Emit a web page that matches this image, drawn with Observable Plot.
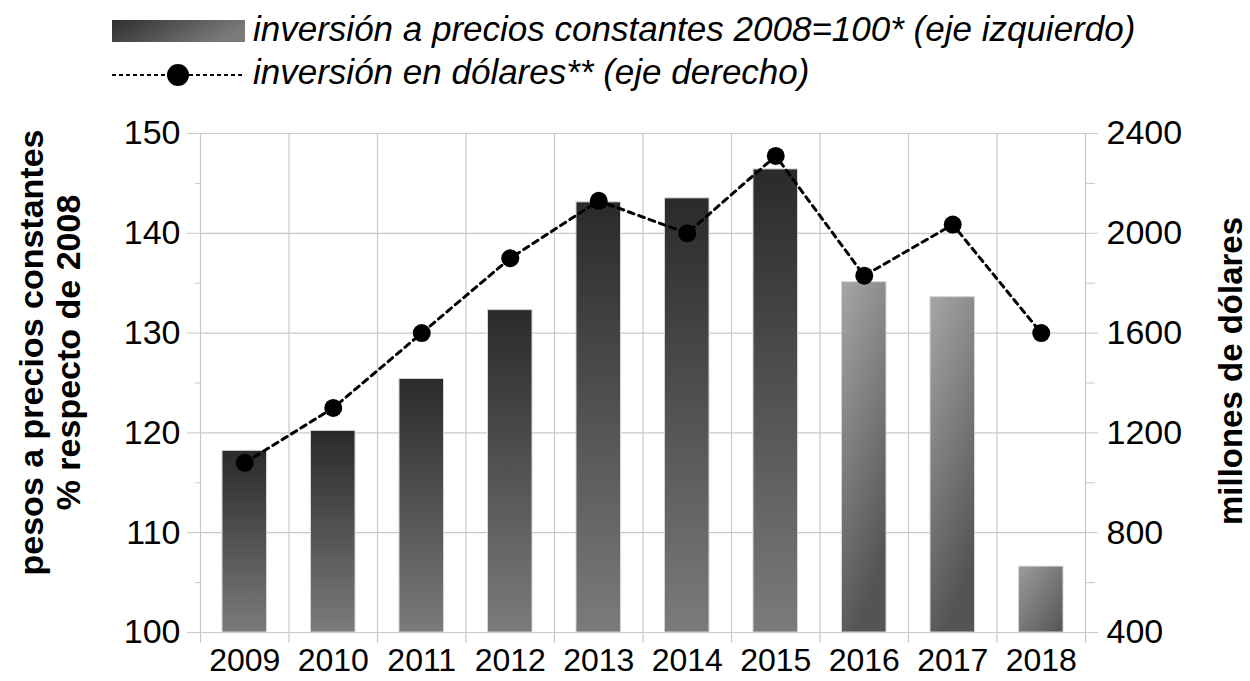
<!DOCTYPE html>
<html>
<head>
<meta charset="utf-8">
<script src="https://cdn.jsdelivr.net/npm/d3@7"></script>
<script src="https://cdn.jsdelivr.net/npm/@observablehq/plot@0.6"></script>
<style>
  html, body { margin: 0; padding: 0; background: #fff; }
  body { width: 1250px; height: 681px; overflow: hidden; font-family: "Liberation Sans", Arial, sans-serif; }
  #legend { position: relative; width: 1250px; height: 100px; }
  .lg-text { position: absolute; left: 253px; font-style: italic; font-size: 35px; color: #000; white-space: nowrap; line-height: 1; }
  #chart svg { display: block; }
</style>
</head>
<body>
<div id="legend">
  <svg width="250" height="100" style="position:absolute;left:0;top:0">
    <defs>
      <linearGradient id="lgGrad" x1="0" y1="0" x2="1" y2="0.3">
        <stop offset="0" stop-color="#2e2e2e"/>
        <stop offset="1" stop-color="#7a7a7a"/>
      </linearGradient>
    </defs>
    <rect x="112" y="20" width="133" height="22" fill="url(#lgGrad)"/>
    <line x1="112" x2="245" y1="75" y2="75" stroke="#000" stroke-width="2.2" stroke-dasharray="4,3"/>
    <circle cx="178" cy="75" r="11" fill="#000"/>
  </svg>
  <div class="lg-text" style="top:11px">inversión a precios constantes 2008=100* (eje izquierdo)</div>
  <div class="lg-text" style="top:54px">inversión en dólares** (eje derecho)</div>
</div>
<div id="chart"></div>
<script>
// ---- data ----
const years = [2009, 2010, 2011, 2012, 2013, 2014, 2015, 2016, 2017, 2018];
const inversionConstante = [118.2, 120.2, 125.4, 132.3, 143.1, 143.5, 146.4, 135.1, 133.6, 106.6];
const inversionDolares = [1080, 1300, 1600, 1900, 2130, 2000, 2310, 1830, 2035, 1600];
const leftTicks = [100, 110, 120, 130, 140, 150];
const rightTicks = [400, 800, 1200, 1600, 2000, 2400];

// right axis (dollars) mapped onto the left scale
const R0 = rightTicks[0];
const RSTEP = (rightTicks[1] - rightTicks[0]) / (leftTicks[1] - leftTicks[0]);
const toLeft = v => leftTicks[0] + (v - R0) / RSTEP;
const toRight = v => String(Math.round((v - leftTicks[0]) * RSTEP + R0));

const rows = years.map((y, i) => ({year: y, pct: inversionConstante[i], usd: inversionDolares[i]}));
const boundaries = [years[0] - 0.5, ...years.map(y => y + 0.5)];
const minorTicks = leftTicks.slice(0, -1).map(t => t + 5);

const W = 1250, H = 581;
const barOpts = (fill) => ({x1: d => d.year - 0.5, x2: d => d.year + 0.5, y1: 100, y2: "pct", insetLeft: 22, insetRight: 22, fill, stroke: "#d4d4d4", strokeWidth: 1});
const chart = Plot.plot({
  width: W,
  height: H,
  marginTop: 33,
  marginBottom: 49,
  marginLeft: 200,
  marginRight: 165,
  style: {fontFamily: "Liberation Sans, Arial, sans-serif", fontSize: "34px", color: "#000", background: "#fff"},
  x: {type: "linear", domain: [years[0] - 0.5, years[years.length - 1] + 0.5]},
  y: {domain: [100, 150]},
  marks: [
    Plot.ruleY(leftTicks, {stroke: "#c8c8c8", strokeWidth: 1.2, x1: years[0] - 0.5, x2: years[years.length-1] + 0.5}),
    Plot.ruleX(boundaries, {stroke: "#c8c8c8", strokeWidth: 1.2, y1: 150, y2: 100, insetBottom: -11}),
    Plot.rectY(rows.filter(d => d.year <= 2015), barOpts("url(#gA)")),
    Plot.rectY(rows.filter(d => d.year > 2015 && d.year < 2018), barOpts("url(#gB)")),
    Plot.rectY(rows.filter(d => d.year >= 2018), barOpts("url(#gC)")),
    Plot.line(rows, {x: "year", y: d => toLeft(d.usd), stroke: "#000", strokeWidth: 3, strokeDasharray: "6,5"}),
    Plot.dot(rows, {x: "year", y: d => toLeft(d.usd), r: 9, fill: "#000"}),
    Plot.axisX(years, {tickSize: 0, tickPadding: 16, tickFormat: d => String(d), fontSize: 32, label: null}),
    Plot.axisY(leftTicks, {anchor: "left", tickSize: 13, tickPadding: 7, stroke: "#c8c8c8", fontSize: 34, label: null}),
    Plot.axisY(minorTicks, {anchor: "left", tickSize: 5, tickFormat: () => "", stroke: "#c8c8c8", label: null}),
    Plot.axisY(leftTicks, {anchor: "right", tickSize: 12, tickPadding: 9, stroke: "#c8c8c8", tickFormat: toRight, fontSize: 34, label: null}),
    Plot.axisY(minorTicks, {anchor: "right", tickSize: 9, tickFormat: () => "", stroke: "#c8c8c8", label: null})
  ]
});

const svg = d3.select(chart);
const defs = svg.insert("defs", ":first-child");
function grad(id, x1, y1, x2, y2, c1, c2) {
  const g = defs.append("linearGradient").attr("id", id)
    .attr("x1", x1).attr("y1", y1).attr("x2", x2).attr("y2", y2);
  g.append("stop").attr("offset", 0).attr("stop-color", c1);
  g.append("stop").attr("offset", 1).attr("stop-color", c2);
}
grad("gA", 0, 0, 0, 1, "#2a2a2a", "#7b7b7b");
grad("gB", 0, 0, 0.35, 1, "#a6a6a6", "#545454");
grad("gC", 0, 0, 1, 1, "#9c9c9c", "#545454");

// axis titles
function vtitle(x, y, txt, size) {
  svg.append("text")
    .attr("transform", `translate(${x}, ${y}) rotate(-90)`)
    .attr("text-anchor", "middle").attr("dominant-baseline", "central")
    .attr("font-weight", "bold").attr("font-size", size).attr("fill", "#000")
    .text(txt);
}
vtitle(31, 252.5, "pesos a precios constantes", 34);
vtitle(68, 252.5, "% respecto de 2008", 34);
vtitle(1230, 271, "millones de dólares", 33);

document.getElementById("chart").appendChild(chart);
</script>
</body>
</html>
